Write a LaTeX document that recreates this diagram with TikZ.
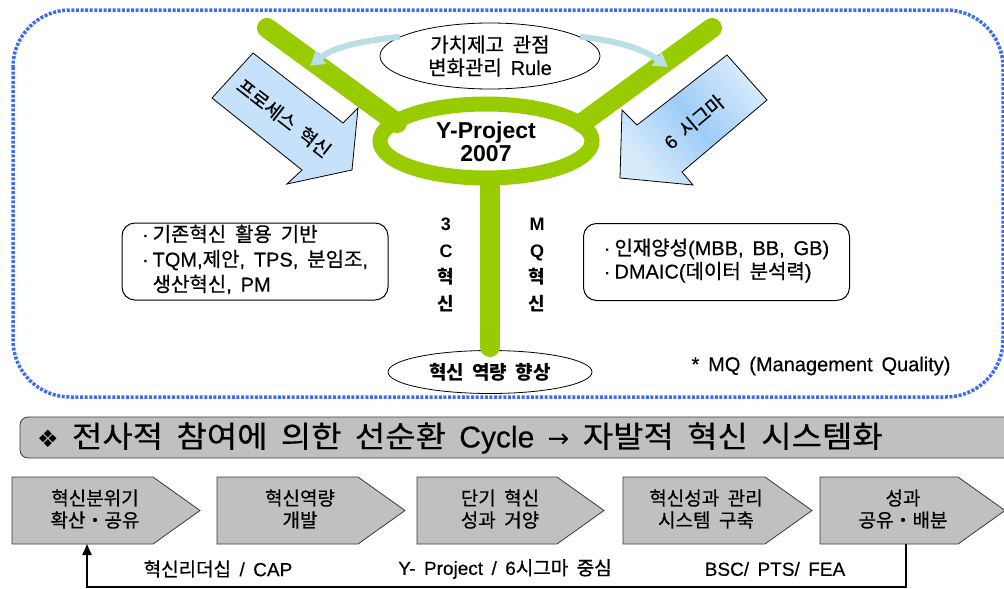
\documentclass[tikz,border=0pt]{standalone}
\usepackage{fontspec}
\setmainfont{Liberation Sans}[WordSpace=1.6, UprightFeatures={FakeBold=0.4}]
\newfontfamily\krfont{Noto Sans CJK KR}[UprightFeatures={FakeBold=0.6}]
\newfontfamily\krwide{Noto Sans CJK KR}[FakeStretch=1.1, UprightFeatures={FakeBold=0.6}]
\newfontfamily\djv{DejaVu Sans}
\XeTeXinterchartokenstate=1
\newXeTeXintercharclass\krclass
\count255="AC00
\loop
  \XeTeXcharclass\count255=\krclass
  \ifnum\count255<"D7A3 \advance\count255 by 1
\repeat
\XeTeXcharclass"30FB=\krclass
\XeTeXinterchartoks 0 \krclass = {\begingroup\krfont}
\XeTeXinterchartoks 4095 \krclass = {\begingroup\krfont}
\XeTeXinterchartoks \krclass 0 = {\endgroup}
\XeTeXinterchartoks \krclass 4095 = {\endgroup}
\usetikzlibrary{arrows.meta,shapes.geometric}
\definecolor{ygreen}{HTML}{99CC00}
\definecolor{dotblue}{HTML}{3D6BF2}
\definecolor{lblue}{HTML}{C6E2FA}
\definecolor{mblue}{HTML}{9ECCF7}
\definecolor{cyanl}{HTML}{B9DEE6}
\definecolor{cgray}{HTML}{C0C0C0}
\definecolor{bdgray}{HTML}{3A3A3A}
\tikzset{
  arm/.style={line width=20pt, draw=ygreen, line cap=round},
  ring/.style={line width=15pt, draw=ygreen},
  barrow/.style={draw=black, line width=0.8pt},
  curv/.style={line width=6pt, draw=cyanl, -{Triangle[width=16pt,length=14pt,fill=cyanl]}},
  rbox/.style={draw=black, line width=1pt, rounded corners=13pt, fill=white,
               minimum width=266pt, minimum height=77pt, inner sep=0pt},
  oval/.style={ellipse, draw=black, line width=0.8pt, fill=white, inner sep=0pt},
  chev/.style={draw=bdgray, fill=cgray, line width=0.8pt},
  txt/.style={font=\fontsize{19}{22}\selectfont, align=center, inner sep=0pt},
  btxt/.style={font=\bfseries\fontsize{18}{26.5}\selectfont, align=center, inner sep=0pt},
  fb/.style={line width=2pt, draw=black, -{Triangle[width=9pt,length=11pt]}}
}
\begin{document}
\begin{tikzpicture}[x=1pt,y=-1pt]
\useasboundingbox (0,0) rectangle (1004,589);
\clip (0,0) rectangle (1004,589);
% dotted frame
\draw[dotblue, line width=3.5pt, dash pattern=on 3pt off 1.6pt, rounded corners=57pt]
  (13,10) rectangle (1003,397);
% Y shape
\draw[arm] (267,28) -- (397,123);
\draw[arm] (712,28) -- (582,123);
\draw[ring] (486,141) ellipse [x radius=106, y radius=37];
% bottom ellipse
\node[oval, minimum width=204pt, minimum height=43pt, font=\bfseries\fontsize{19}{22}\selectfont] (cap) at (490,372) {혁신 역량 향상};
\draw[arm] (490,182) -- (490,347);
\node[btxt, font=\bfseries\fontsize{23}{23}\selectfont] (yp) at (486,142) {Y-Project\\2007};
% top ellipse
\node[oval, minimum width=220pt, minimum height=66pt, font=\fontsize{20}{23}\selectfont, align=center] (vc) at (490,56) {가치제고 관점\\변화관리 Rule};
\coordinate (lt) at (310,66);
\coordinate (rt) at (668,67);
\draw[curv] (vc.168) .. controls (350,42) and (330,50) .. (lt);
\draw[curv] (vc.12) .. controls (630,42) and (650,54) .. (rt);
% blue arrows
\draw[barrow, fill=lblue] (253,53) -- (343,123) -- (358,108) -- (352,170) -- (287,184) -- (302,170) -- (212,98) -- cycle;
\node[txt, rotate=-38, font=\fontsize{19}{22}\selectfont] (pa) at (284,118) {프로세스 혁신};
\shade[left color=lblue!70!white, right color=lblue!70!white, middle color=mblue, shading angle=-50]
  (727,55) -- (637,125) -- (622,110) -- (620,178) -- (693,185) -- (682,172) -- (767,100) -- cycle;
\draw[barrow] (727,55) -- (637,125) -- (622,110) -- (620,178) -- (693,185) -- (682,172) -- (767,100) -- cycle;
\node[txt, rotate=40, font=\fontsize{19}{22}\selectfont] (sa) at (694,122) {6 시그마};
% side boxes
\node[rbox, font=\fontsize{20}{25}\selectfont] (lb) at (255,261.5)
  {\begin{tabular}{@{}l@{\hspace{4pt}}l@{}}·&기존혁신 활용 기반\\ ·&TQM,제안, TPS, 분임조,\\ &생산혁신, PM\end{tabular}};
\node[rbox, font=\fontsize{20}{23}\selectfont] (rb) at (716.5,262)
  {\begin{tabular}{@{}l@{\hspace{4pt}}l@{}}·&인재양성(MBB, BB, GB)\\ ·&DMAIC(데이터 분석력)\end{tabular}};
\node[btxt] (c3) at (446,265) {3\\C\\혁\\신};
\node[btxt] (mq) at (537,265) {M\\Q\\혁\\신};
\node[txt, font=\fontsize{20}{22}\selectfont] (note) at (821,366) {* MQ (Management Quality)};
% banner
\draw[draw=bdgray, fill=cgray, line width=0.8pt, rounded corners=8pt] (20,417) rectangle (1030,458);
\node[anchor=west, inner sep=0pt, font={\let\krfont\krwide\fontsize{30}{32}\selectfont}] (ban) at (37,438)
  {{\djv\fontsize{24}{26}\selectfont ❖} 전사적 참여에 의한 선순환 Cycle {\djv\fontsize{26}{28}\selectfont →} 자발적 혁신 시스템화};
% chevrons
\foreach \x/\w/\n/\t in {12/141/c1/{혁신분위기\\확산・공유}, 217/141/c2/{혁신역량\\개발}, 417/140/c3b/{단기 혁신\\성과 거양}, 623/142/c4/{혁신성과 관리\\시스템 구축}, 820/138/c5/{성과\\공유・배분}}{
  \draw[chev] (\x,477) -- ++(\w,0) -- ++(47,33.5) -- ++(-47,33.5) -- ++(-\w,0) -- cycle;
  \node[txt] (\n) at (\x+83,509) {\t};
}
\coordinate (c1s) at (87,544);
\coordinate (c5s) at (906,544);
\draw[fb] (c5s) -- ++(0,43) -| (c1s);
% bottom labels
\node[txt] (l1) at (218,569) {혁신리더십 / CAP};
\node[txt] (l2) at (505,569) {Y- Project / 6시그마 중심};
\node[txt] (l3) at (775,569) {BSC/ PTS/ FEA};
\end{tikzpicture}
\end{document}
